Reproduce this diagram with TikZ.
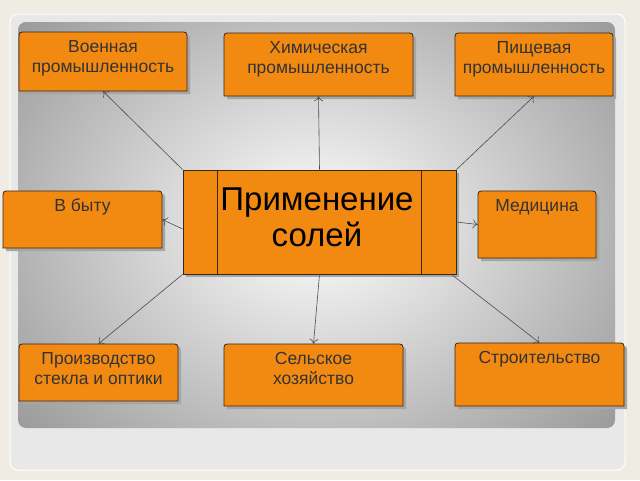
\documentclass[tikz,border=0pt]{standalone}
\usepackage{fontspec}
\setmainfont{Liberation Sans}
\usetikzlibrary{arrows.meta}
\begin{document}
\begin{tikzpicture}[x=1pt,y=-1pt,
  shad/.style={fill=black!35, draw=none},
  area/.style={inner sep=0pt, draw=none},
  txt/.style={text=black!80, font=\fontsize{17.5}{20.5}\selectfont, align=center, inner sep=0pt},
  arr/.style={draw=black!70, line width=0.6pt, -{To[length=5pt,width=9pt]}}]
\definecolor{boxor}{HTML}{F28A12}
\tikzset{boxst/.style={draw=black!70!brown, line width=0.8pt, fill=boxor}}
\useasboundingbox (0,0) rectangle (640,480);
\fill[color={rgb,255:red,239;green,236;blue,228}] (0,0) rectangle (640,480);
\draw[fill=black!9, draw=white, line width=1pt, rounded corners=8] (10,14) rectangle (625,470);
\begin{scope}
\clip[rounded corners=8] (18,22) rectangle (615,428);
\shade[inner color=white, outer color=black!42] (316,225) ellipse (420 and 330);
\end{scope}
\newcommand\obox[6]{%
  \fill[shad] (#2+3,#5+3) -- (#2+3,#3+9) .. controls (#2+3,#3+3) .. (#2+9,#3+3) -- (#4-3,#3+3) .. controls (#4+3,#3+3) .. (#4+3,#3+9) -- (#4+3,#5+3) -- cycle;
  \draw[boxst] (#2,#5) -- (#2,#3+7) .. controls (#2,#3) .. (#2+7,#3) -- (#4-7,#3) .. controls (#4,#3) .. (#4,#3+7) -- (#4,#5) -- cycle;
  \node[area, minimum width=#4-#2, minimum height=#5-#3] (#1) at ({(#2+#4)/2},{(#3+#5)/2}) {};
  \node[txt, anchor=north] (#1-t) at ([yshift=-8pt]#1.north) {#6};}
\obox{voen}{19}{32}{187}{91}{Военная\\промышленность}
\obox{chem}{224}{33}{413}{96}{Химическая\\промышленность}
\obox{food}{455}{33}{613}{96}{Пищевая\\промышленность}
\obox{byt}{3}{191}{162}{248}{В быту}
\obox{med}{478}{191}{596}{258}{Медицина}
\obox{prod}{19}{344}{178}{401}{Производство\\стекла и оптики}
\obox{agri}{224}{344}{403}{406}{Сельское\\хозяйство}
\obox{build}{455}{343}{624}{406}{Строительство}
% centre
\fill[shad] (186,173) rectangle (459,277);
\node[boxst, inner sep=0pt, minimum width=273pt, minimum height=104pt] (c) at (319.5,222) {};
\draw[black!70!brown, line width=0.8pt] (217,170) -- (217,274) (421,170) -- (421,274);
\node[text=black, font=\fontsize{33}{36}\selectfont, align=center, inner sep=0pt, anchor=north] (ct) at (317,188) {Применение\\солей};
\draw[arr] (c.north west) -- (voen.south);
\draw[arr] (c.north) -- (chem.south);
\draw[arr] (c.north east) -- (food.south);
\draw[arr] ([yshift=-7pt]c.west) -- (byt.east);
\draw[arr] (c.east) -- (med.west);
\draw[arr] (c.south west) -- (prod.north);
\draw[arr] (c.south) -- (agri.north);
\draw[arr] ([xshift=-5pt]c.south east) -- (build.north);
\end{tikzpicture}
\end{document}
